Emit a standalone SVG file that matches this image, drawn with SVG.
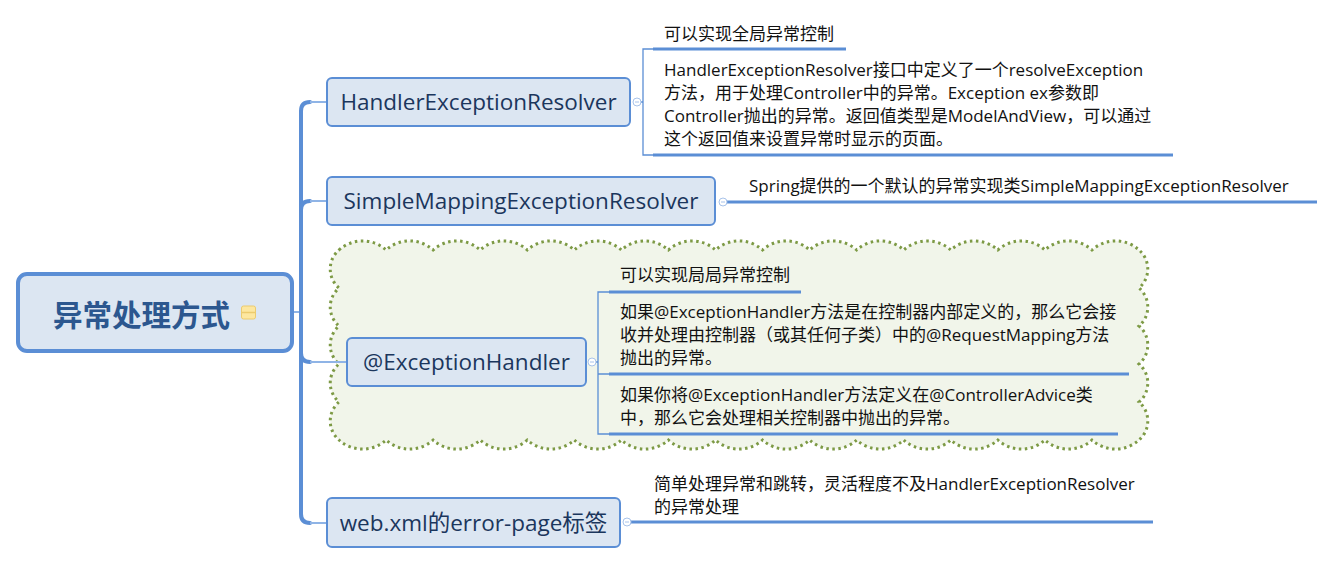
<svg xmlns="http://www.w3.org/2000/svg" width="1335" height="564" viewBox="0 0 1335 564">
<style>
.box{fill:#dce6f2;stroke:#5b8ed5;stroke-width:2}
.nt{font-family:"Open Sans","Noto Sans CJK SC",sans-serif;font-size:22.5px;fill:#1b365d;text-anchor:middle}
.ct{font-family:"Open Sans","Noto Sans CJK SC",sans-serif;font-size:17px;fill:#111}
.ul{stroke:#5b8ed5;stroke-width:3;fill:none}
.br{stroke:#5b8ed5;stroke-width:1.3;fill:none}
.tr{stroke:#5b8ed5;stroke-width:4;fill:none;stroke-linecap:round}
.tw{stroke:#8fb4e6;stroke-width:2;fill:none}
.tog{fill:#fff;stroke:#a8c3ea;stroke-width:1}
.togm{stroke:#a8c3ea;stroke-width:1}
</style>
<rect width="1335" height="564" fill="#fff"/>

<g id="boundary">
<path d="M339 250 a35 35 0 0 1 47.06 0 a35 35 0 0 1 47.06 0 a35 35 0 0 1 47.06 0 a35 35 0 0 1 47.06 0 a35 35 0 0 1 47.06 0 a35 35 0 0 1 47.06 0 a35 35 0 0 1 47.06 0 a35 35 0 0 1 47.06 0 a35 35 0 0 1 47.06 0 a35 35 0 0 1 47.06 0 a35 35 0 0 1 47.06 0 a35 35 0 0 1 47.06 0 a35 35 0 0 1 47.06 0 a35 35 0 0 1 47.06 0 a35 35 0 0 1 47.06 0 a35 35 0 0 1 47.06 0 a35 35 0 0 1 47.06 0 a25 25 0 0 1 0 38 a25 25 0 0 1 0 38 a25 25 0 0 1 0 38 a25 25 0 0 1 0 38 a25 25 0 0 1 0 38 a35 35 0 0 1 -47.06 0 a35 35 0 0 1 -47.06 0 a35 35 0 0 1 -47.06 0 a35 35 0 0 1 -47.06 0 a35 35 0 0 1 -47.06 0 a35 35 0 0 1 -47.06 0 a35 35 0 0 1 -47.06 0 a35 35 0 0 1 -47.06 0 a35 35 0 0 1 -47.06 0 a35 35 0 0 1 -47.06 0 a35 35 0 0 1 -47.06 0 a35 35 0 0 1 -47.06 0 a35 35 0 0 1 -47.06 0 a35 35 0 0 1 -47.06 0 a35 35 0 0 1 -47.06 0 a35 35 0 0 1 -47.06 0 a35 35 0 0 1 -47.06 0 a25 25 0 0 1 0 -38 a25 25 0 0 1 0 -38 a25 25 0 0 1 0 -38 a25 25 0 0 1 0 -38 a25 25 0 0 1 0 -38 Z" fill="#f1f5ea" stroke="#7d9a45" stroke-width="3" stroke-dasharray="2.5 3.5"/>
</g>

<g id="connectors">
<line x1="293" y1="312" x2="301" y2="312" class="tw"/>
<path class="tr" d="M310 102 Q301 102 301 111 L301 514 Q301 523 310 523"/>
<path class="tr" d="M301 210 Q301 201 310 201"/>
<path class="tr" d="M301 353 Q301 362 310 362"/>
<line x1="310" y1="102" x2="327" y2="102" class="tw"/>
<line x1="310" y1="201" x2="327" y2="201" class="tw"/>
<line x1="310" y1="362" x2="347" y2="362" class="tw"/>
<line x1="310" y1="523" x2="327" y2="523" class="tw"/>
<line x1="641" y1="102" x2="643" y2="102" class="br"/>
<path class="br" d="M653 49 H643 V155 H653"/>
<line x1="653" y1="49" x2="846" y2="49" class="ul"/>
<line x1="653" y1="155" x2="1173" y2="155" class="ul"/>
<line x1="727" y1="202" x2="1317" y2="202" class="ul"/>
<line x1="596" y1="362" x2="598" y2="362" class="br"/>
<path class="br" d="M609 292 H598 V434 H609 M598 374 H609"/>
<line x1="609" y1="292" x2="801" y2="292" class="ul"/>
<line x1="609" y1="374" x2="1129" y2="374" class="ul"/>
<line x1="609" y1="434" x2="1118" y2="434" class="ul"/>
<line x1="631" y1="522" x2="1153" y2="522" class="ul"/>
</g>

<g id="root">
<rect x="18" y="274" width="274" height="77" rx="9" fill="#dce6f2" stroke="#5b8ed5" stroke-width="4"/>
<text x="53" y="326" font-family="'Noto Sans CJK SC',sans-serif" font-size="29.5" font-weight="bold" fill="#2c578f">异常处理方式</text>
<rect x="241.5" y="306" width="14" height="13" rx="2" fill="#fde7a0" stroke="#eccb6e" stroke-width="1"/>
<line x1="242" y1="312.5" x2="255" y2="312.5" stroke="#eccb6e" stroke-width="1.5"/>
</g>

<g id="n1">
<rect class="box" x="327" y="78" width="303" height="48" rx="5"/>
<text class="nt" x="478.5" y="110">HandlerExceptionResolver</text>
<circle class="tog" cx="637" cy="102" r="4"/><line class="togm" x1="635" y1="102" x2="639" y2="102"/>
</g>
<g id="n1c1"><text class="ct" x="664" y="40">可以实现全局异常控制</text></g>
<g id="n1c2">
<text class="ct" x="664" y="76">HandlerExceptionResolver接口中定义了一个resolveException</text>
<text class="ct" x="664" y="99">方法，用于处理Controller中的异常。Exception ex参数即</text>
<text class="ct" x="664" y="122">Controller抛出的异常。返回值类型是ModelAndView，可以通过</text>
<text class="ct" x="664" y="145">这个返回值来设置异常时显示的页面。</text>
</g>

<g id="n2">
<rect class="box" x="327" y="177" width="388" height="48" rx="5"/>
<text class="nt" x="521" y="209">SimpleMappingExceptionResolver</text>
<circle class="tog" cx="723" cy="202" r="4"/><line class="togm" x1="721" y1="202" x2="725" y2="202"/>
</g>
<g id="n2c1"><text class="ct" x="749" y="192">Spring提供的一个默认的异常实现类SimpleMappingExceptionResolver</text></g>

<g id="n3">
<rect class="box" x="347" y="338" width="239" height="48" rx="5"/>
<text class="nt" x="466.5" y="370">@ExceptionHandler</text>
<circle class="tog" cx="592" cy="362" r="4"/><line class="togm" x1="590" y1="362" x2="594" y2="362"/>
</g>
<g id="n3c1"><text class="ct" x="620" y="281">可以实现局局异常控制</text></g>
<g id="n3c2">
<text class="ct" x="620" y="318">如果@ExceptionHandler方法是在控制器内部定义的，那么它会接</text>
<text class="ct" x="620" y="341">收并处理由控制器（或其任何子类）中的@RequestMapping方法</text>
<text class="ct" x="620" y="364">抛出的异常。</text>
</g>
<g id="n3c3">
<text class="ct" x="620" y="401">如果你将@ExceptionHandler方法定义在@ControllerAdvice类</text>
<text class="ct" x="620" y="424">中，那么它会处理相关控制器中抛出的异常。</text>
</g>

<g id="n4">
<rect class="box" x="327" y="498" width="293" height="49" rx="5"/>
<text class="nt" x="473.5" y="531">web.xml的error-page标签</text>
<circle class="tog" cx="627" cy="522" r="4"/><line class="togm" x1="625" y1="522" x2="629" y2="522"/>
</g>
<g id="n4c1">
<text class="ct" x="654" y="490">简单处理异常和跳转，灵活程度不及HandlerExceptionResolver</text>
<text class="ct" x="654" y="513">的异常处理</text>
</g>
</svg>
